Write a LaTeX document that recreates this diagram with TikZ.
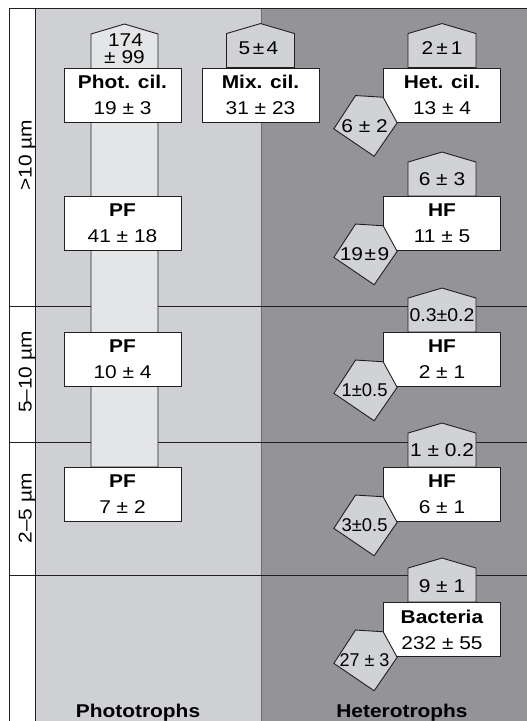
\documentclass[tikz,border=0pt]{standalone}
\usepackage{fontspec}
\setmainfont{Liberation Sans}[FakeStretch=1.13]
\usetikzlibrary{calc}
\definecolor{lightcol}{HTML}{CFD0D4}
\definecolor{darkcol}{HTML}{939398}
\definecolor{barcol}{HTML}{E4E5E7}
\definecolor{housecol}{HTML}{D1D2D6}
\definecolor{ink}{HTML}{231F20}
\definecolor{divcol}{HTML}{6D6E71}
\newcommand\hshape[1]{\draw[housest] ($(#1.north)+(-34,0)$) -- ++(0,-34) -- ++(34,-10) -- ++(34,10) -- ++(0,34) -- cycle;}
\newcommand\pent[3]{%
  \draw[housest] ($(#1.north west)+(-27.5,28)$) -- ++(27.6,1.7) -- ++(14,25.6) -- ++(-23,33.4) -- ++(-40.3,-27.4) -- cycle;
  \node[txt] (#2) at ($(#1.north west)+(-18.5,64.5)$) {#3};}
\begin{document}
\begin{tikzpicture}[x=1pt,y=-1pt,
  ln/.style={draw=ink,line width=0.9pt},
  boxst/.style={draw=ink,line width=0.9pt,fill=white,minimum width=117pt,minimum height=54pt,inner sep=0pt,align=center,font=\fontsize{18.5}{26}\selectfont},
  housest/.style={draw=ink,line width=0.9pt,fill=housecol},
  txt/.style={font=\fontsize{18.5}{20}\selectfont,inner sep=0pt,anchor=base},
  ]
\useasboundingbox (0,0) rectangle (527,721);
\fill[white] (0,0) rectangle (527,721);
\fill[white] (9,8) rectangle (35,721);
\fill[lightcol] (35,8) rectangle (261,721);
\fill[darkcol] (261,8) rectangle (527,721);
\draw[divcol,line width=0.8pt] (261,8) -- (261,721);
\draw[ln] (9,306) -- (527,306);
\draw[ln] (9,442) -- (527,442);
\draw[ln] (9,575) -- (527,575);
\draw[ln] (9,721) -- (9,8) -- (527,8);
\draw[ln] (35,8) -- (35,721);
% left labels
\node[txt,rotate=90] (l1) at (31.5,155) {>10 µm};
\node[txt,rotate=90] (l2) at (31.5,372) {5–10 µm};
\node[txt,rotate=90] (l3) at (31.5,508.5) {2–5 µm};
% bar
\draw[ln,fill=barcol] (91,467) -- (91,34) -- (124.5,24) -- (158,34) -- (158,467) -- cycle;
\node[txt] (n174) at (125.5,46) {174};
\node[txt] (n99) at (124.5,63) {± 99};
% boxes
\node[boxst] (phot) at (122.5,95) {\textbf{Phot. cil.}\\19 ± 3};
\node[boxst] (pf1) at (122.5,223.5) {\textbf{PF}\\41 ± 18};
\node[boxst] (pf2) at (122.5,359.5) {\textbf{PF}\\10 ± 4};
\node[boxst] (pf3) at (122.5,494.5) {\textbf{PF}\\7 ± 2};
\node[boxst] (mix) at (260.5,95) {\textbf{Mix. cil.}\\31 ± 23};
\node[boxst] (het) at (442,95) {\textbf{Het. cil.}\\13 ± 4};
\node[boxst] (hf1) at (442,223.5) {\textbf{HF}\\11 ± 5};
\node[boxst] (hf2) at (442,359.5) {\textbf{HF}\\2 ± 1};
\node[boxst] (hf3) at (442,494.5) {\textbf{HF}\\6 ± 1};
\node[boxst] (bac) at (442,629.5) {\textbf{Bacteria}\\232 ± 55};
% houses
\hshape{mix}
\node[txt] (mixh) at ($(mix.north)+(-2,-13)$) {5\kern2.5pt±\kern2.5pt4};
\hshape{het}
\node[txt] (heth) at ($(het.north)+(0,-13)$) {2\,±\,1};
\hshape{hf1}
\node[txt] (hf1h) at ($(hf1.north)+(0,-11)$) {6 ± 3};
\hshape{hf2}
\node[txt] (hf2h) at ($(hf2.north)+(0,-10.5)$) {\scalebox{0.93}[1]{0.3±0.2}};
\hshape{hf3}
\node[txt] (hf3h) at ($(hf3.north)+(0,-10.5)$) {1 ± 0.2};
\hshape{bac}
\node[txt] (bach) at ($(bac.north)+(0,-10)$) {9 ± 1};
% pentagons
\pent{het}{hetp}{6 ± 2}
\pent{hf1}{hf1p}{19\kern1.5pt±\kern1.5pt9}
\pent{hf2}{hf2p}{\scalebox{0.88}[1]{1±0.5}}
\pent{hf3}{hf3p}{\scalebox{0.88}[1]{3±0.5}}
\pent{bac}{bacp}{\scalebox{0.86}[1]{27 ± 3}}
% bottom labels
\node[txt] (photo) at (138,717) {\textbf{Phototrophs}};
\node[txt] (hetero) at (402,717) {\textbf{Heterotrophs}};
\end{tikzpicture}
\end{document}
